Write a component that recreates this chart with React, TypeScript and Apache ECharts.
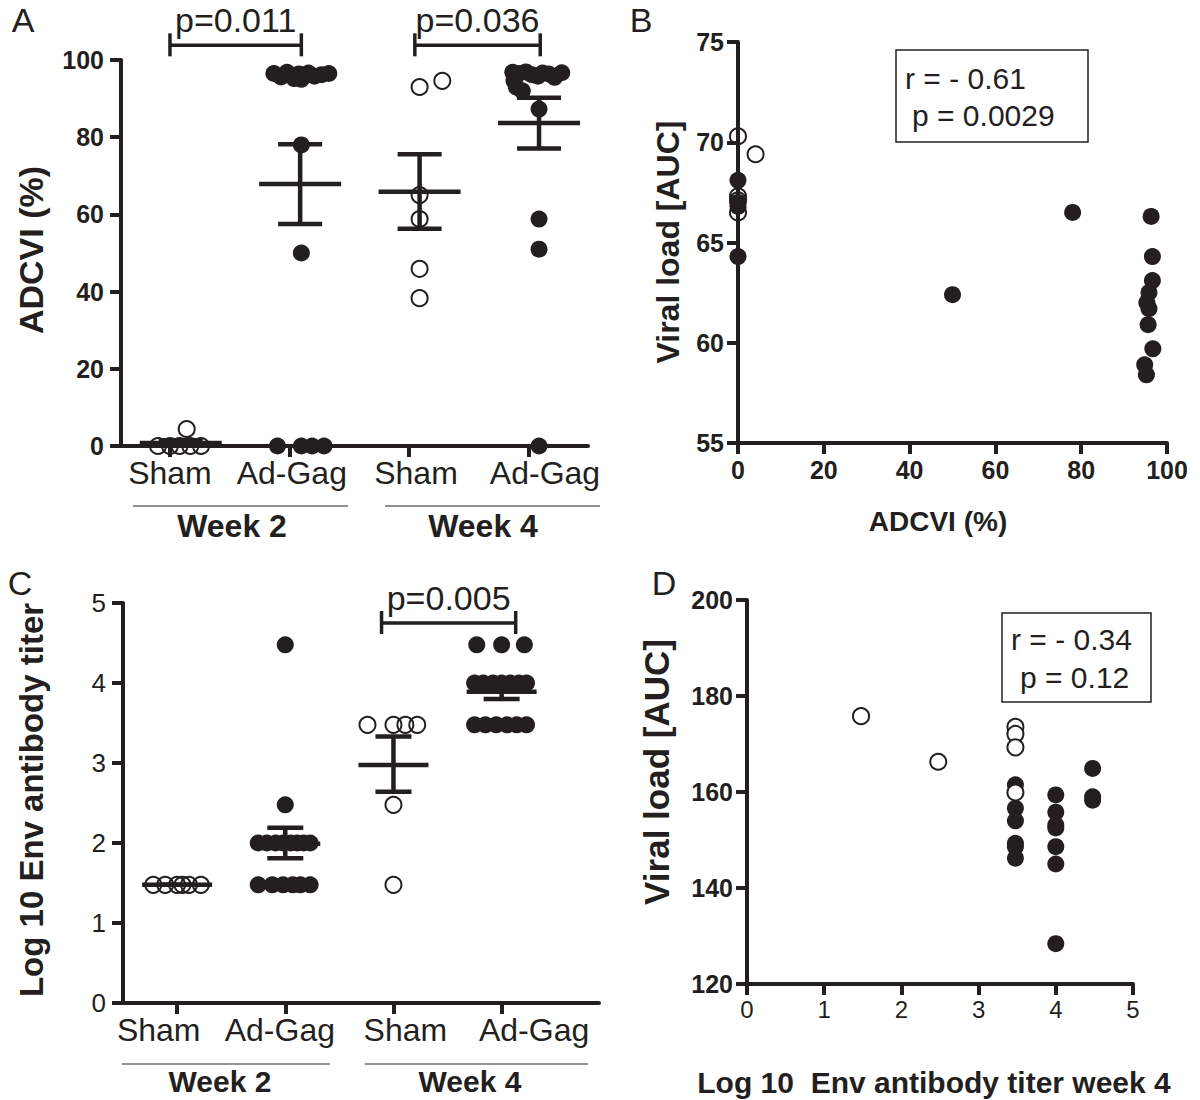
import React, { useEffect, useRef } from 'react';
import * as echarts from 'echarts';

const INK = '#231f20';
const FONT = '"Liberation Sans", Arial, Helvetica, sans-serif';

// ---------- Panel A : ADCVI (%) ----------
const groupNames = ['Sham', 'Ad-Gag', 'Sham', 'Ad-Gag'];
const aShamW2 = [0, 0, 0, 0, 0, 4.4];
const aShamW2Jit = [-0.1, 0.0, 0.08, 0.17, 0.26, 0.14];
const aAdGagW2 = [96.5, 95.6, 96.8, 95.2, 96.4, 95.0, 96.6, 95.8, 96.2, 96.5, 78, 50, 0, 0, 0, 0];
const aAdGagW2Jit = [-0.13, -0.07, -0.02, 0.04, 0.08, 0.1, 0.16, 0.21, 0.27, 0.33, 0.1, 0.1, -0.1, 0.1, 0.19, 0.29];
const aShamW4 = [93, 94.6, 65, 58.8, 45.9, 38.3];
const aShamW4Jit = [0.09, 0.28, 0.09, 0.09, 0.09, 0.09];
const aAdGagW4 = [96.8, 96.5, 96.9, 96.2, 95.8, 96.6, 96.4, 95.5, 96.7, 94.6, 93.0, 92.0, 87.3, 58.8, 51.0, 0];
const aAdGagW4Jit = [-0.13, -0.08, -0.02, 0.03, 0.08, 0.12, 0.17, 0.22, 0.28, -0.12, -0.1, -0.05, 0.09, 0.09, 0.09, 0.09];
const aMean = [0.8, 67.9, 65.9, 83.7];
const aSemLo = [0.1, 57.5, 56.3, 77.1];
const aSemHi = [1.5, 78.2, 75.6, 90.2];
const aPLabels = ['p=0.011', 'p=0.036'];
const aPFrom = [0, 2.05];
const aPTo = [1.1, 3.1];

// ---------- Panel B : Viral load vs ADCVI ----------
const bShamX = [0, 4.1, 0, 0, 0];
const bShamY = [70.3, 69.4, 67.3, 67.1, 66.5];
const bAdGagX = [0, 0, 0, 0, 50, 78, 96.3, 96.6, 96.6, 95.8, 95.3, 95.8, 95.6, 96.7, 94.8, 95.2];
const bAdGagY = [68.1, 67.0, 66.8, 64.3, 62.4, 66.5, 66.3, 64.3, 63.1, 62.5, 62.0, 61.7, 60.9, 59.7, 58.9, 58.4];

// ---------- Panel C : Log10 Env antibody titer ----------
const cShamW2 = [1.477, 1.477, 1.477, 1.477, 1.477, 1.477];
const cShamW2Jit = [-0.22, -0.11, 0.0, 0.05, 0.11, 0.22];
const cAdGagW2 = [4.477, 2.477, 2, 2, 2, 2, 2, 2, 2, 2, 1.477, 1.477, 1.477, 1.477, 1.477, 1.477];
const cAdGagW2Jit = [0, 0, -0.25, -0.17, -0.09, -0.02, 0.05, 0.11, 0.17, 0.23, -0.25, -0.12, -0.02, 0.07, 0.14, 0.23];
const cShamW4 = [3.477, 3.477, 3.477, 3.477, 2.477, 1.477];
const cShamW4Jit = [-0.24, 0, 0.11, 0.22, 0, 0];
const cAdGagW4 = [4.477, 4.477, 4.477, 4, 4, 4, 4, 4, 4, 4, 3.477, 3.477, 3.477, 3.477, 3.477, 3.477];
const cAdGagW4Jit = [-0.23, 0, 0.21, -0.25, -0.17, -0.08, 0, 0.08, 0.16, 0.23, -0.25, -0.15, -0.05, 0.05, 0.14, 0.23];
const cMean = [1.477, 1.99, 2.975, 3.89];
const cSemLo = [1.477, 1.81, 2.64, 3.8];
const cSemHi = [1.477, 2.19, 3.33, 3.98];
const cPLabels = ['p=0.005'];
const cPFrom = [1.89];
const cPTo = [3.13];

// ---------- Panel D : Viral load vs titer week 4 ----------
const dShamX = [1.477, 2.477, 3.477, 3.477, 3.477, 3.477];
const dShamY = [175.8, 166.3, 173.6, 172.1, 169.3, 159.9];
const dAdGagX = [3.477, 3.477, 3.477, 3.477, 3.477, 3.477, 4, 4, 4, 4, 4, 4, 4, 4.477, 4.477, 4.477];
const dAdGagY = [161.5, 156.6, 154.0, 149.3, 148.6, 146.2, 159.4, 155.8, 153.1, 152.5, 148.6, 145.0, 128.4, 164.9, 159.0, 158.3];

const pts = (vals: number[], jit: number[], base: number) => vals.map((v, i) => [base + jit[i], v]);
const pairs = (xs: number[], ys: number[]) => xs.map((x, i) => [x, ys[i]]);

const lineSt = { color: INK, width: 4 };

function catAxis(grid: number, min: number, max: number, labelPos: number[]) {
  return {
    gridIndex: grid, type: 'value', min, max,
    axisLine: { show: true, onZero: false, lineStyle: lineSt },
    axisTick: { show: true, customValues: [0, 1, 2, 3], length: 11, lineStyle: lineSt },
    axisLabel: {
      customValues: labelPos, margin: 11, color: INK, fontFamily: FONT, fontSize: 32,
      formatter: (v: number) => {
        const i = labelPos.findIndex((p) => Math.abs(p - v) < 1e-6);
        return i >= 0 ? groupNames[i] : '';
      },
    },
    splitLine: { show: false },
  };
}

function valAxis(grid: number, min: number, max: number, interval: number, bold: boolean, size = 25, margin = 14) {
  return {
    gridIndex: grid, type: 'value', min, max, interval,
    axisLine: { show: true, onZero: false, lineStyle: lineSt },
    axisTick: { show: true, length: 11, lineStyle: lineSt },
    axisLabel: { margin, color: INK, fontFamily: FONT, fontSize: size, fontWeight: bold ? 'bold' : 'normal' },
    splitLine: { show: false },
  };
}

function errRender(meanHalf: number, capHalf: number) {
  return (params: any, api: any) => {
    const x = api.value(0);
    const pm = api.coord([x, api.value(1)]);
    const pl = api.coord([x, api.value(2)]);
    const ph = api.coord([x, api.value(3)]);
    const st = { stroke: INK, lineWidth: 4.5 };
    return {
      type: 'group',
      children: [
        { type: 'line', shape: { x1: pl[0], y1: pl[1], x2: ph[0], y2: ph[1] }, style: st },
        { type: 'line', shape: { x1: pl[0] - capHalf, y1: pl[1], x2: pl[0] + capHalf, y2: pl[1] }, style: st },
        { type: 'line', shape: { x1: ph[0] - capHalf, y1: ph[1], x2: ph[0] + capHalf, y2: ph[1] }, style: st },
        { type: 'line', shape: { x1: pm[0] - meanHalf, y1: pm[1], x2: pm[0] + meanHalf, y2: pm[1] }, style: st },
      ],
    };
  };
}

function bracketRender(labels: string[]) {
  return (params: any, api: any) => {
    const y = api.value(2);
    const p1 = api.coord([api.value(0), y]);
    const p2 = api.coord([api.value(1), y]);
    const st = { stroke: INK, lineWidth: 3.5 };
    return {
      type: 'group',
      children: [
        { type: 'line', shape: { x1: p1[0], y1: p1[1], x2: p2[0], y2: p2[1] }, style: st },
        { type: 'line', shape: { x1: p1[0], y1: p1[1] - 12, x2: p1[0], y2: p1[1] + 11 }, style: st },
        { type: 'line', shape: { x1: p2[0], y1: p2[1] - 12, x2: p2[0], y2: p2[1] + 11 }, style: st },
        {
          type: 'text', x: (p1[0] + p2[0]) / 2, y: p1[1] - 25,
          style: {
            text: labels[params.dataIndex], font: `34px ${FONT}`, fill: INK,
            textAlign: 'center', align: 'center', textVerticalAlign: 'middle', verticalAlign: 'middle',
          },
        },
      ],
    };
  };
}

const openSym = (fill: string) => ({ color: fill, borderColor: INK, borderWidth: 2, opacity: 1 });
const filledSym = { color: INK, opacity: 1 };

function txt(text: string, x: number, y: number, size: number, weight = 'normal', align = 'center', rotation = 0) {
  return {
    type: 'text', x, y, rotation, z: 10,
    style: {
      text, font: `${weight} ${size}px ${FONT}`, fill: INK,
      textAlign: align, align, textVerticalAlign: 'middle', verticalAlign: 'middle',
    },
  };
}
function hline(x1: number, x2: number, y: number, color = '#6d6e71', w = 1.5) {
  return { type: 'line', z: 10, shape: { x1, y1: y, x2, y2: y }, style: { stroke: color, lineWidth: w } };
}
function box(x: number, y: number, w: number, h: number) {
  return { type: 'rect', z: 10, shape: { x, y, width: w, height: h }, style: { fill: 'none', stroke: INK, lineWidth: 1.5 } };
}

function buildOption() {
  const aMeanData = aMean.map((m, i) => [i + 0.09, m, aSemLo[i], aSemHi[i]]);
  const cMeanData = cMean.map((m, i) => [i, m, cSemLo[i], cSemHi[i]]);
  const aLabelPos = [0, 1.02, 2.06, 3.14];
  const cLabelPos = [-0.17, 0.95, 2.11, 3.3];
  return {
    animation: false,
    grid: [
      { left: 121, top: 60, width: 467, height: 386, containLabel: false, outerBoundsMode: 'none' },
      { left: 738, top: 42, width: 429, height: 401, containLabel: false, outerBoundsMode: 'none' },
      { left: 123, top: 603, width: 476, height: 400, containLabel: false, outerBoundsMode: 'none' },
      { left: 747, top: 600, width: 386, height: 384, containLabel: false, outerBoundsMode: 'none' },
    ],
    xAxis: [
      catAxis(0, -0.41, 3.5, aLabelPos),
      valAxis(1, 0, 100, 20, true, 25, 14),
      catAxis(2, -0.5, 3.9, cLabelPos),
      valAxis(3, 0, 5, 1, false, 24, 13),
    ],
    yAxis: [
      valAxis(0, 0, 100, 20, true, 25, 17),
      valAxis(1, 55, 75, 5, true, 25, 14),
      valAxis(2, 0, 5, 1, false, 26, 17),
      valAxis(3, 120, 200, 20, true, 25, 14),
    ],
    series: [
      // Panel A
      { type: 'scatter', xAxisIndex: 0, yAxisIndex: 0, symbolSize: 16, itemStyle: openSym('none'), data: [...pts(aShamW2, aShamW2Jit, 0), ...pts(aShamW4, aShamW4Jit, 2)] },
      { type: 'scatter', xAxisIndex: 0, yAxisIndex: 0, symbolSize: 17, itemStyle: filledSym, data: [...pts(aAdGagW2, aAdGagW2Jit, 1), ...pts(aAdGagW4, aAdGagW4Jit, 3)] },
      { type: 'custom', xAxisIndex: 0, yAxisIndex: 0, z: 5, renderItem: errRender(41, 22), data: aMeanData },
      { type: 'custom', xAxisIndex: 0, yAxisIndex: 0, z: 5, clip: false, encode: { x: [0, 1], y: 2 }, renderItem: bracketRender(aPLabels), data: aPFrom.map((f, i) => [f, aPTo[i], 103.8]) },
      // Panel B
      { type: 'scatter', xAxisIndex: 1, yAxisIndex: 1, symbolSize: 16, itemStyle: openSym('none'), data: pairs(bShamX, bShamY) },
      { type: 'scatter', xAxisIndex: 1, yAxisIndex: 1, symbolSize: 17, itemStyle: filledSym, data: pairs(bAdGagX, bAdGagY) },
      // Panel C
      { type: 'scatter', xAxisIndex: 2, yAxisIndex: 2, symbolSize: 16, itemStyle: openSym('none'), data: [...pts(cShamW2, cShamW2Jit, 0), ...pts(cShamW4, cShamW4Jit, 2)] },
      { type: 'scatter', xAxisIndex: 2, yAxisIndex: 2, symbolSize: 17, itemStyle: filledSym, data: [...pts(cAdGagW2, cAdGagW2Jit, 1), ...pts(cAdGagW4, cAdGagW4Jit, 3)] },
      { type: 'custom', xAxisIndex: 2, yAxisIndex: 2, z: 5, renderItem: errRender(35, 18), data: cMeanData },
      { type: 'custom', xAxisIndex: 2, yAxisIndex: 2, z: 5, clip: false, encode: { x: [0, 1], y: 2 }, renderItem: bracketRender(cPLabels), data: cPFrom.map((f, i) => [f, cPTo[i], 4.75]) },
      // Panel D
      { type: 'scatter', xAxisIndex: 3, yAxisIndex: 3, symbolSize: 17, itemStyle: filledSym, data: pairs(dAdGagX, dAdGagY) },
      { type: 'scatter', xAxisIndex: 3, yAxisIndex: 3, symbolSize: 16, z: 3, itemStyle: openSym('#ffffff'), data: pairs(dShamX, dShamY) },
    ],
    graphic: [
      txt('A', 23, 20, 34),
      txt('B', 641, 20, 34),
      txt('C', 20, 583, 34),
      txt('D', 664, 583, 34),
      // axis titles
      txt('ADCVI (%)', 31, 250, 34, 'bold', 'center', Math.PI / 2),
      txt('Viral load [AUC]', 668, 242, 32, 'bold', 'center', Math.PI / 2),
      txt('ADCVI (%)', 938, 521, 28, 'bold'),
      txt('Log 10 Env antibody titer', 31, 800, 33, 'bold', 'center', Math.PI / 2),
      txt('Viral load [AUC]', 656, 772, 35, 'bold', 'center', Math.PI / 2),
      txt('Log 10  Env antibody titer week 4', 934, 1082, 30, 'bold'),
      // week groupings
      hline(133, 348, 506), hline(385, 600, 506),
      txt('Week 2', 232, 526, 32, 'bold'),
      txt('Week 4', 483, 526, 32, 'bold'),
      hline(122, 330, 1064), hline(365, 588, 1064),
      txt('Week 2', 220, 1081, 30, 'bold'),
      txt('Week 4', 470, 1081, 30, 'bold'),
      // correlation boxes
      box(896, 50, 192, 92),
      txt('r = - 0.61', 905, 78, 30, 'normal', 'left'),
      txt('p = 0.0029', 912, 115, 30, 'normal', 'left'),
      box(1002, 613, 149, 89),
      txt('r = - 0.34', 1011, 639, 30, 'normal', 'left'),
      txt('p = 0.12', 1020, 677, 30, 'normal', 'left'),
    ],
  };
}

export default function App() {
  const ref = useRef<HTMLDivElement>(null);
  useEffect(() => {
    document.body.style.margin = '0';
    if (!ref.current) return;
    const chart = echarts.init(ref.current, undefined, { renderer: 'svg' });
    chart.setOption(buildOption() as any);
    return () => chart.dispose();
  }, []);
  return <div ref={ref} style={{ width: 1200, height: 1100, background: '#fff' }} />;
}
